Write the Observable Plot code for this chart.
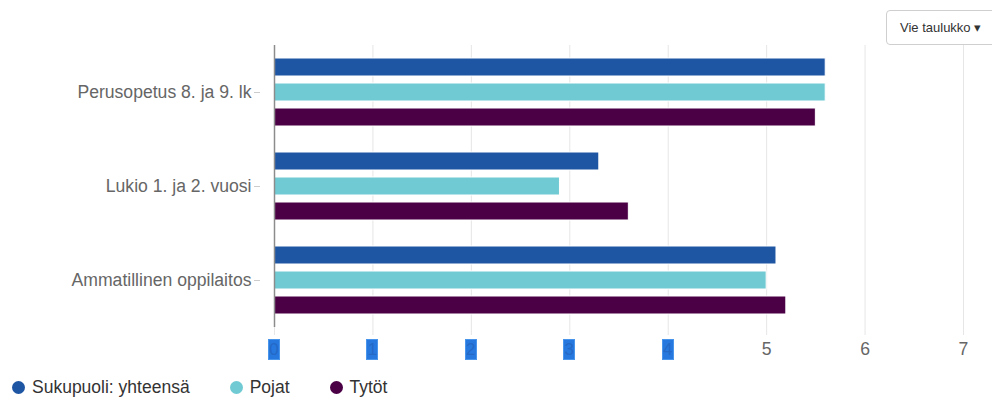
<!DOCTYPE html>
<html>
<head>
<meta charset="utf-8">
<script src="https://cdn.jsdelivr.net/npm/d3@7"></script>
<script src="https://cdn.jsdelivr.net/npm/@observablehq/plot@0.6"></script>
<style>
  html, body { margin: 0; padding: 0; background: #fff; }
  body { width: 992px; height: 400px; position: relative; overflow: hidden;
         font-family: "Liberation Sans", Arial, sans-serif; }
  #chart { position: absolute; left: 0; top: 0; }
  #export { position: absolute; left: 886px; top: 10px; width: 120px; height: 35px;
            box-sizing: border-box; border: 1px solid #cfcfcf; border-radius: 4px;
            background: #fff; font-size: 13px; color: #333; line-height: 33px;
            padding-left: 13px; white-space: nowrap; }
  #legend { position: absolute; left: 12px; top: 377px; display: flex; gap: 40px;
            font-size: 17.5px; color: #333; }
  #legend .item { display: flex; align-items: center; gap: 7px; }
  #legend .sw { width: 13px; height: 13px; border-radius: 50%; display: inline-block; }
  .tick-box { position: absolute; top: 339px; width: 12px; height: 21px; box-sizing: border-box;
              background: #2778de; border: 1px solid #4a95ec; color: #2469c6;
              font-size: 17px; line-height: 19px; text-align: center; overflow: hidden; }
</style>
</head>
<body>
<div id="chart"></div>
<div id="export">Vie taulukko &#9662;</div>
<div id="legend"></div>
<script>
// Categories, series and values
const categories = ["Perusopetus 8. ja 9. lk", "Lukio 1. ja 2. vuosi", "Ammatillinen oppilaitos"];
const series = ["Sukupuoli: yhteensä", "Pojat", "Tytöt"];
const seriesColors = ["#1f56a3", "#6fcad3", "#4b0046"];
const totalValues = [5.6, 3.3, 5.1];
const boysValues = [5.6, 2.9, 5.0];
const girlsValues = [5.5, 3.6, 5.2];
const xTicks = [0, 1, 2, 3, 4, 5, 6, 7];
const highlightedTicks = [0, 1, 2, 3, 4];

const valuesBySeries = [totalValues, boysValues, girlsValues];
const rows = [];
categories.forEach((category, i) => {
  series.forEach((s, j) => {
    rows.push({category, series: s, value: valuesBySeries[j][i]});
  });
});

const chart = Plot.plot({
  width: 992,
  height: 376,
  marginLeft: 274,
  marginRight: 29,
  marginTop: 44,
  marginBottom: 49,
  style: {fontFamily: "'Liberation Sans', Arial, sans-serif", fontSize: "17.6px", color: "#666", background: "#fff"},
  x: {domain: [0, 7]},
  y: {domain: series, axis: null, paddingInner: 0.28, paddingOuter: 0.52},
  fy: {domain: categories, paddingInner: 0, paddingOuter: 0},
  color: {domain: series, range: seriesColors},
  marks: [
    Plot.gridX(xTicks, {stroke: "#e6e6e6", strokeOpacity: 1}),
    Plot.barX(rows, {x: "value", y: "series", fy: "category", fill: "series", stroke: "#fff", strokeWidth: 1}),
    Plot.ruleX([0], {stroke: "#8c8c8c", strokeWidth: 1.5}),
    Plot.axisX(xTicks, {anchor: "bottom", tickSize: 8, tickPadding: 7, stroke: "#e6e6e6", fill: "#666", label: null, tickFormat: d => String(d)}),
    Plot.axisFy({anchor: "left", tickSize: 6, tickPadding: 3, dx: -14, stroke: "#cccccc", fill: "#666", label: null})
  ]
});

document.getElementById("chart").appendChild(chart);

// Highlight boxes over the first tick labels, placed with the x scale
const xScale = chart.scale("x");
highlightedTicks.forEach(v => {
  const box = document.createElement("div");
  box.className = "tick-box";
  box.style.left = (xScale.apply(v) - 6) + "px";
  box.textContent = String(v);
  document.body.appendChild(box);
});

// Legend
const legend = d3.select("#legend");
series.forEach((s, i) => {
  const item = legend.append("div").attr("class", "item");
  item.append("span").attr("class", "sw").style("background", seriesColors[i]);
  item.append("span").text(s);
});
</script>
</body>
</html>
